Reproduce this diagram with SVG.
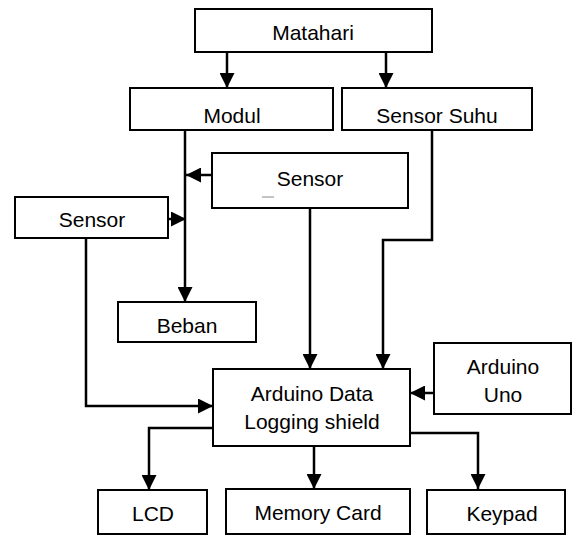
<svg xmlns="http://www.w3.org/2000/svg" width="573" height="536" viewBox="0 0 573 536">
<style>
.box{fill:#fff;stroke:#000;stroke-width:2}
.t{font-family:"Liberation Sans",Arial,sans-serif;font-size:21px;fill:#000;text-anchor:middle}
.c{fill:none;stroke:#000;stroke-width:2.5}
</style>
<defs>
<marker id="ah" markerUnits="userSpaceOnUse" markerWidth="15" markerHeight="15" refX="14" refY="7" orient="auto" viewBox="0 0 14 14">
<path d="M0,0 L14,7 L0,14 z" fill="#000"/>
</marker>
</defs>
<rect width="573" height="536" fill="#fff"/>
<g id="connectors">
<path class="c" d="M227,52 V88" marker-end="url(#ah)"/>
<path class="c" d="M386,52 V88" marker-end="url(#ah)"/>
<path class="c" d="M185,130 V302" marker-end="url(#ah)"/>
<path class="c" d="M212,175 H186" marker-end="url(#ah)"/>
<path class="c" d="M168,219 H186" marker-end="url(#ah)"/>
<path class="c" d="M310,208 V369" marker-end="url(#ah)"/>
<path class="c" d="M432,130 V240 H383 V369" marker-end="url(#ah)"/>
<path class="c" d="M86,238 V406 H213" marker-end="url(#ah)"/>
<path class="c" d="M434,393 H410" marker-end="url(#ah)"/>
<path class="c" d="M213,428 H149 V490" marker-end="url(#ah)"/>
<path class="c" d="M314,446 V489" marker-end="url(#ah)"/>
<path class="c" d="M410,433 H478 V489" marker-end="url(#ah)"/>
</g>
<g id="matahari"><rect class="box" x="195" y="9" width="237" height="43"/><text class="t" x="313" y="40">Matahari</text></g>
<g id="modul"><rect class="box" x="130" y="88" width="203" height="42"/><text class="t" x="232" y="123">Modul</text></g>
<g id="sensor-suhu"><rect class="box" x="342" y="88" width="190" height="42"/><text class="t" x="437" y="123">Sensor Suhu</text></g>
<g id="sensor-upper"><rect class="box" x="212" y="153" width="196" height="55"/><text class="t" x="310" y="186">Sensor</text><line x1="262" y1="197" x2="274" y2="197" stroke="#888" stroke-width="1"/></g>
<g id="sensor-left"><rect class="box" x="15" y="197" width="153" height="41"/><text class="t" x="92" y="227">Sensor</text></g>
<g id="beban"><rect class="box" x="118" y="302" width="138" height="40"/><text class="t" x="187" y="333">Beban</text></g>
<g id="arduino-data"><rect class="box" x="213" y="369" width="197" height="77"/><text class="t" x="312" y="401">Arduino Data</text><text class="t" x="312" y="429">Logging shield</text></g>
<g id="arduino-uno"><rect class="box" x="434" y="343" width="137" height="71"/><text class="t" x="503" y="374">Arduino</text><text class="t" x="503" y="402">Uno</text></g>
<g id="lcd"><rect class="box" x="98" y="490" width="109" height="44"/><text class="t" x="153" y="521">LCD</text></g>
<g id="memory-card"><rect class="box" x="226" y="489" width="184" height="45"/><text class="t" x="318" y="520">Memory Card</text></g>
<g id="keypad"><rect class="box" x="427" y="490" width="138" height="44"/><text class="t" x="502" y="521">Keypad</text></g>
</svg>
